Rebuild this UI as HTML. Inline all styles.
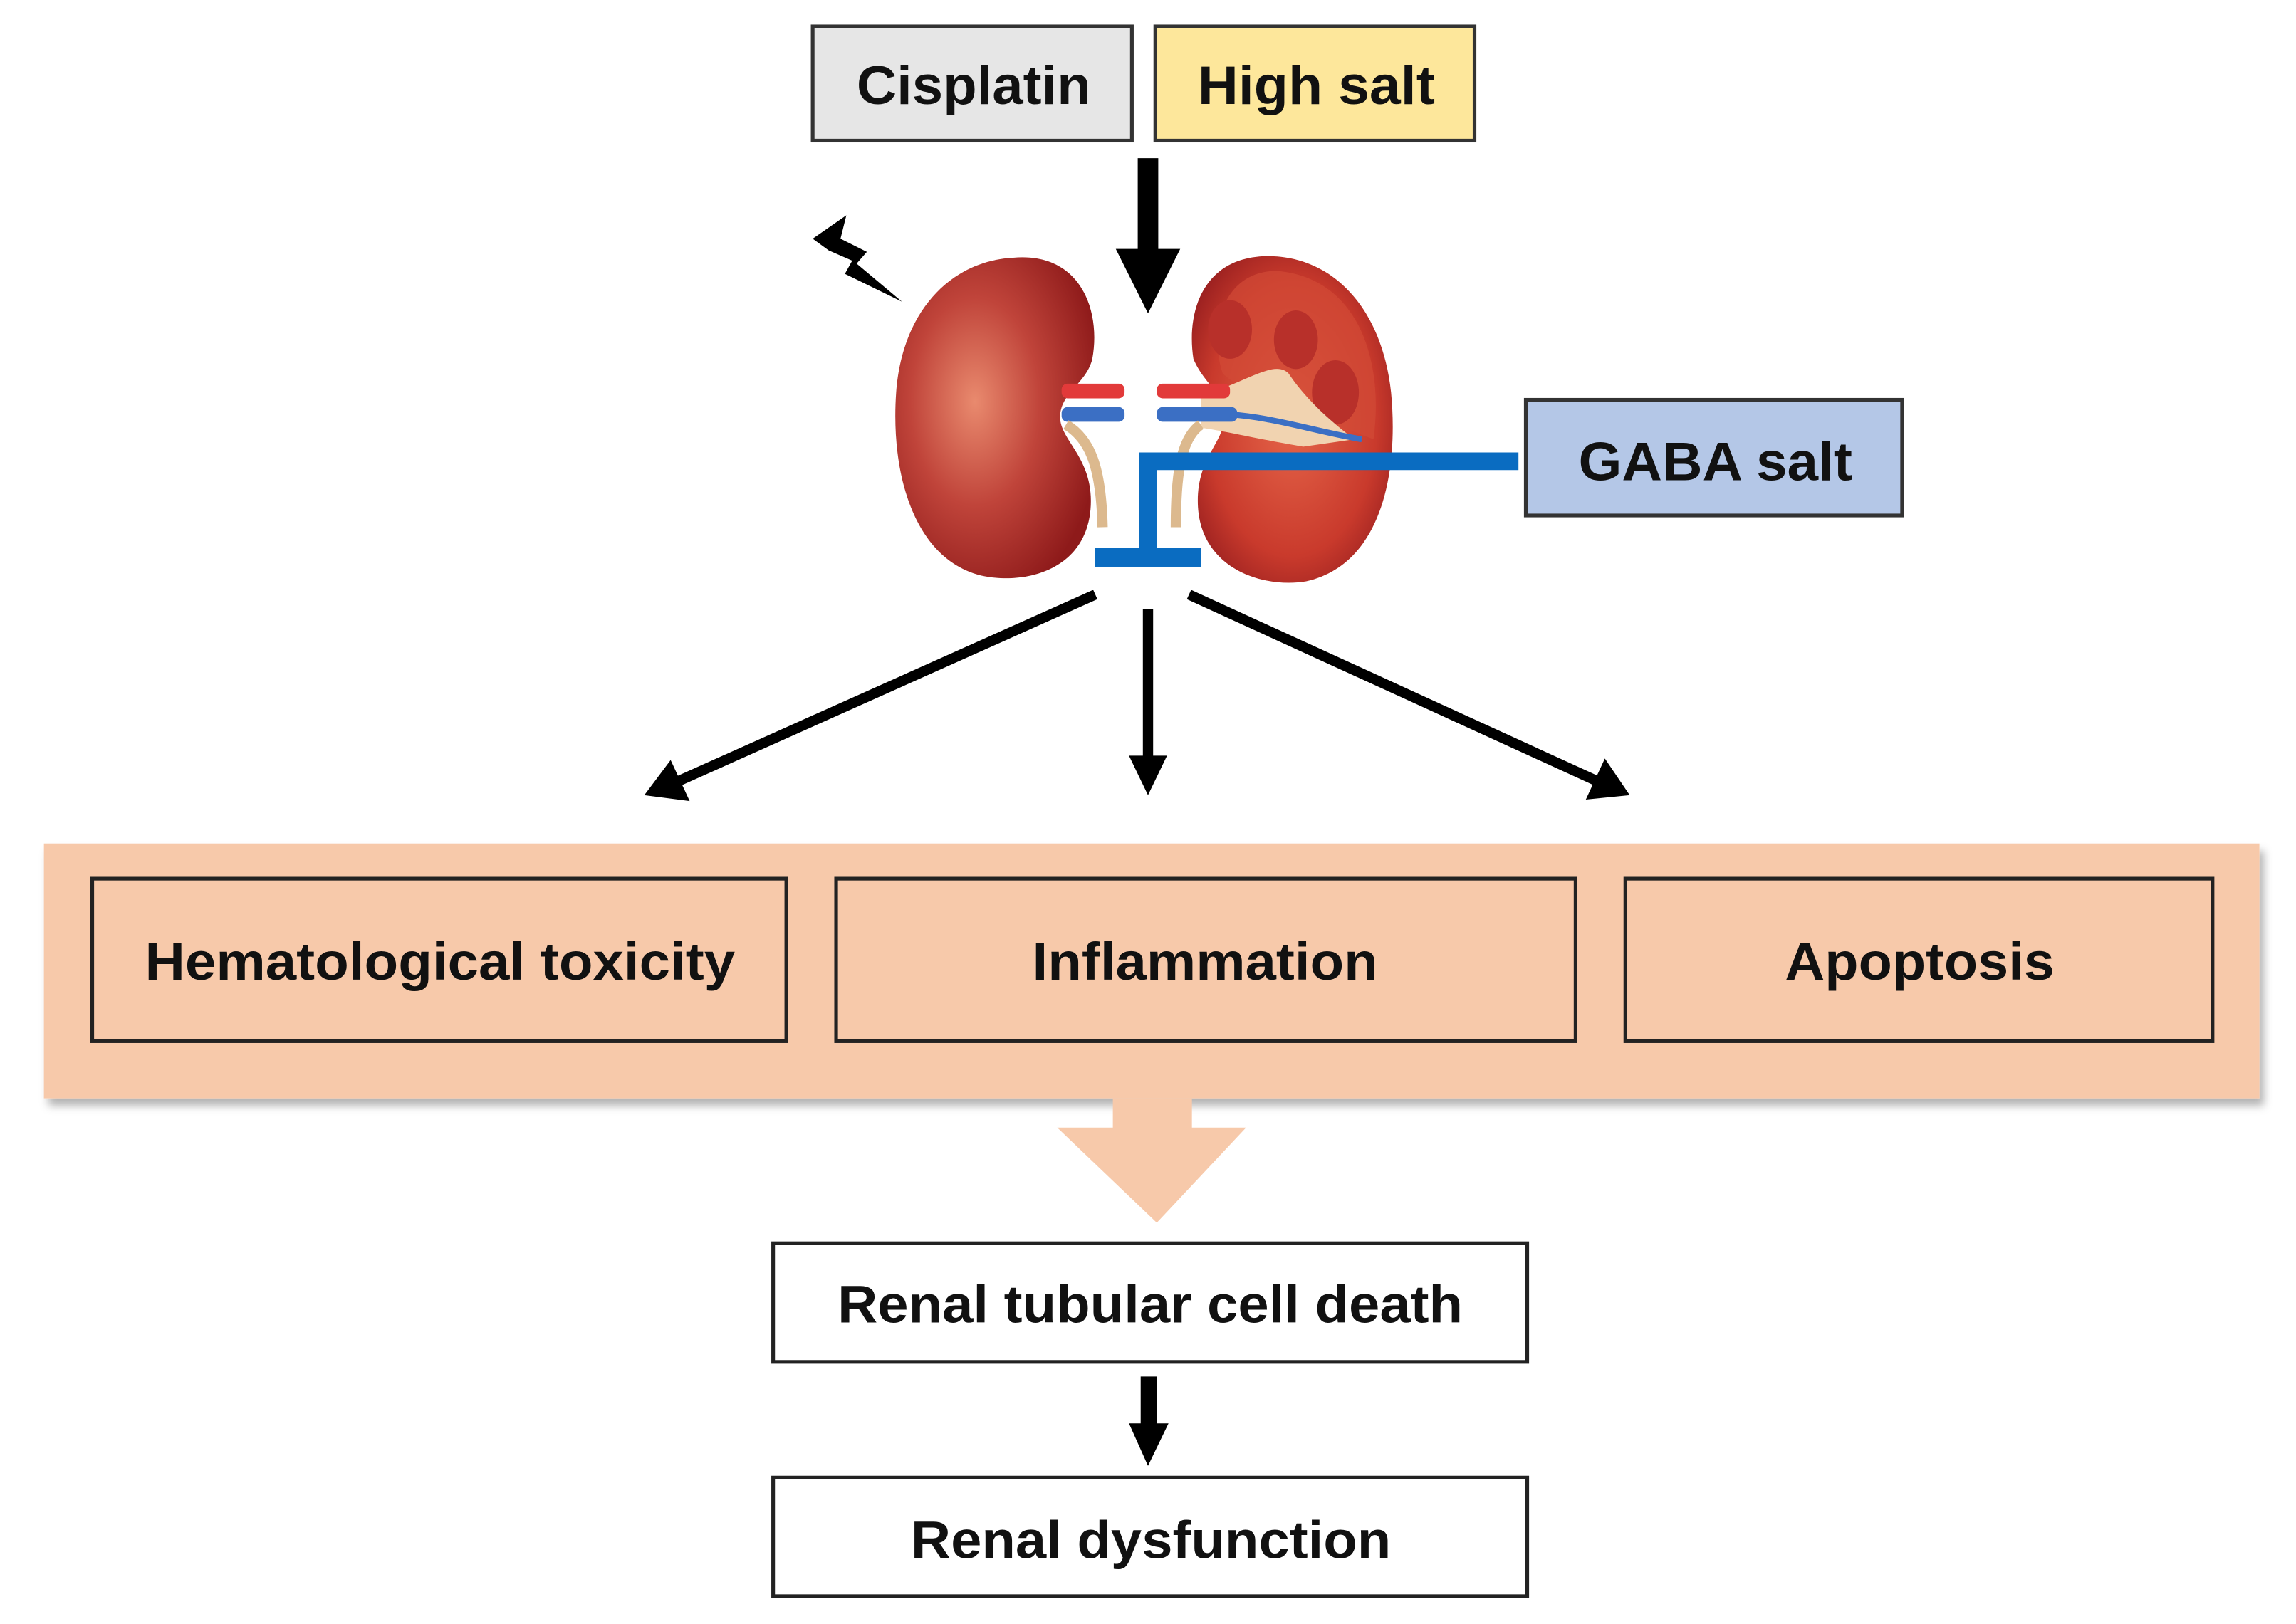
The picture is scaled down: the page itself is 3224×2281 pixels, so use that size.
<!DOCTYPE html>
<html><head><meta charset="utf-8"><style>
html,body{margin:0;padding:0;background:#fff;}
svg{display:block;}
text{font-family:"Liberation Sans",Arial,sans-serif;font-weight:bold;fill:#111;}
</style></head><body>
<svg width="3224" height="2281" viewBox="0 0 1568 1109" preserveAspectRatio="none" xmlns="http://www.w3.org/2000/svg">
<defs>
<radialGradient id="kl" cx="0.4" cy="0.45" r="0.65">
<stop offset="0" stop-color="#e98a6e"/><stop offset="0.5" stop-color="#c0443a"/><stop offset="1" stop-color="#8e1a1a"/>
</radialGradient>
<radialGradient id="kr" cx="0.5" cy="0.5" r="0.6">
<stop offset="0" stop-color="#e6664a"/><stop offset="0.7" stop-color="#c93a2c"/><stop offset="1" stop-color="#9a2020"/>
</radialGradient>
<filter id="sh" x="-5%" y="-10%" width="110%" height="130%"><feDropShadow dx="3" dy="5" stdDeviation="3" flood-color="#000" flood-opacity="0.3"/></filter>
</defs>

<rect x="555" y="18" width="218" height="78" fill="#e6e6e6" stroke="#333" stroke-width="2.5"/>
<text x="585" y="71" font-size="37" textLength="160" lengthAdjust="spacingAndGlyphs">Cisplatin</text>
<rect x="789" y="18" width="218" height="78" fill="#fde79b" stroke="#333" stroke-width="2.5"/>
<text x="818" y="71" font-size="37" textLength="162" lengthAdjust="spacingAndGlyphs">High salt</text>

<rect x="777" y="108" width="14" height="66" fill="#000"/>
<polygon points="762,170 806,170 784,214" fill="#000"/>

<polygon points="555,163 578,147 574,163 592,172 585,180 616,206 577,187 582,178 566,171" fill="#000"/>

<path d="M692,176 C738,172 752,212 746,245 C742,262 724,268 724,285 C724,300 745,312 745,342 C745,388 702,400 670,393 C625,382 608,325 612,268 C616,212 650,178 692,176 Z" fill="url(#kl)"/>
<path d="M870,175 C822,173 810,212 815,245 C822,262 836,268 836,285 C836,302 818,312 818,342 C818,388 862,402 892,397 C945,385 955,320 950,268 C944,212 912,177 870,175 Z" fill="url(#kr)"/>
<path d="M872,185 C835,185 825,225 835,255 C850,270 900,285 938,300 C945,250 930,190 872,185 Z" fill="#d24a36" opacity="0.7"/>
<ellipse cx="840" cy="225" rx="15" ry="20" fill="#b8302a"/>
<ellipse cx="885" cy="232" rx="15" ry="20" fill="#b8302a"/>
<ellipse cx="912" cy="268" rx="16" ry="22" fill="#b8302a"/>
<path d="M820,270 C850,262 870,245 880,255 C890,270 905,285 925,300 L890,305 C860,300 840,295 820,292 Z" fill="#f1d3b0"/>
<rect x="725" y="262" width="43" height="10" rx="4" fill="#e23a3a"/>
<rect x="790" y="262" width="50" height="10" rx="4" fill="#e23a3a"/>
<rect x="725" y="278" width="43" height="10" rx="4" fill="#3b6fc4"/>
<rect x="790" y="278" width="55" height="10" rx="4" fill="#3b6fc4"/>
<path d="M840,283 C870,285 900,295 930,300" stroke="#3b6fc4" stroke-width="4" fill="none"/>
<path d="M728,290 C745,300 752,320 753,360" stroke="#dcb98e" stroke-width="7" fill="none"/>
<path d="M820,290 C805,300 803,330 803,360" stroke="#dcb98e" stroke-width="7" fill="none"/>

<polyline points="1037,315 784,315 784,380" fill="none" stroke="#0a6cc1" stroke-width="12"/>
<rect x="748" y="374" width="72" height="13" fill="#0a6cc1"/>
<rect x="1042" y="273" width="257" height="79" fill="#b4c7e7" stroke="#333" stroke-width="2.5"/>
<text x="1078" y="328" font-size="37" textLength="187" lengthAdjust="spacingAndGlyphs">GABA salt</text>

<line x1="748" y1="406" x2="462" y2="534" stroke="#000" stroke-width="7"/>
<polygon points="440,543 458,519 471,547" fill="#000"/>
<line x1="784" y1="416" x2="784" y2="520" stroke="#000" stroke-width="7"/>
<polygon points="771,516 797,516 784,543" fill="#000"/>
<line x1="812" y1="406" x2="1092" y2="534" stroke="#000" stroke-width="7"/>
<polygon points="1113,543 1096,518 1083,546" fill="#000"/>

<rect x="30" y="576" width="1513" height="174" fill="#f7c9aa" filter="url(#sh)"/>
<rect x="63" y="600" width="474" height="111" fill="none" stroke="#222" stroke-width="2.5"/>
<text x="99" y="669" font-size="36" textLength="403" lengthAdjust="spacingAndGlyphs">Hematological toxicity</text>
<rect x="571" y="600" width="505" height="111" fill="none" stroke="#222" stroke-width="2.5"/>
<text x="705" y="669" font-size="36" textLength="236" lengthAdjust="spacingAndGlyphs">Inflammation</text>
<rect x="1110" y="600" width="401" height="111" fill="none" stroke="#222" stroke-width="2.5"/>
<text x="1219" y="669" font-size="36" textLength="184" lengthAdjust="spacingAndGlyphs">Apoptosis</text>

<polygon points="760,750 814,750 814,770 851,770 790,835 722,770 760,770" fill="#f7c9aa"/>

<rect x="528" y="849" width="515" height="81" fill="#fff" stroke="#222" stroke-width="2.5"/>
<text x="572" y="903" font-size="36" textLength="427" lengthAdjust="spacingAndGlyphs">Renal tubular cell death</text>
<rect x="779" y="940" width="11" height="36" fill="#000"/>
<polygon points="771,972 798,972 784,1001" fill="#000"/>
<rect x="528" y="1009" width="515" height="81" fill="#fff" stroke="#222" stroke-width="2.5"/>
<text x="622" y="1064" font-size="36" textLength="328" lengthAdjust="spacingAndGlyphs">Renal dysfunction</text>
</svg>
</body></html>
